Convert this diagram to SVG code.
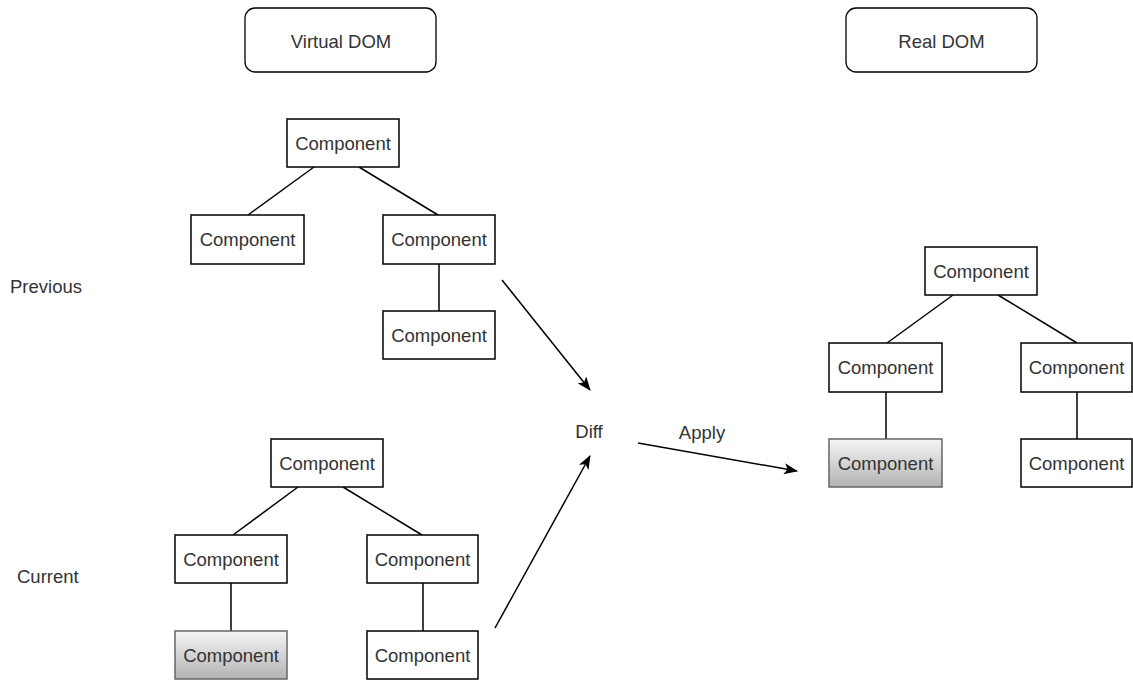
<svg xmlns="http://www.w3.org/2000/svg" width="1133" height="680" viewBox="0 0 1133 680">
  <style>
    .box { fill: #ffffff; stroke: #000000; stroke-width: 1.5; }
    .hl { fill: url(#grayGrad); stroke: #666666; stroke-width: 1.5; }
    .title { fill: #ffffff; stroke: #000000; stroke-width: 1.3; }
    .t { font-family: "Liberation Sans", Arial, sans-serif; font-size: 18.5px; fill: #333333; text-anchor: middle; dominant-baseline: central; }
    .lbl { font-family: "Liberation Sans", Arial, sans-serif; font-size: 18.5px; fill: #333333; dominant-baseline: central; }
    .edge { stroke: #000000; stroke-width: 1.5; fill: none; }
    .arrow { stroke: #000000; stroke-width: 1.5; fill: none; marker-end: url(#head); }
  </style>
  <defs>
    <linearGradient id="grayGrad" x1="0" y1="0" x2="0" y2="1">
      <stop offset="0" stop-color="#f5f5f5"/>
      <stop offset="1" stop-color="#b3b3b3"/>
    </linearGradient>
    <marker id="head" viewBox="0 0 14 11" refX="13" refY="5.5" markerWidth="14" markerHeight="11" markerUnits="userSpaceOnUse" orient="auto">
      <path d="M0,0 L14,5.5 L0,11 L3.5,5.5 Z" fill="#000000"/>
    </marker>
  </defs>

  <rect width="1133" height="680" fill="#ffffff"/>

  <!-- Headers -->
  <g id="virtual-dom">
    <rect class="title" x="245" y="8" width="191" height="64" rx="10"/>
    <text class="t" x="341" y="41">Virtual DOM</text>
  </g>
  <g id="real-dom">
    <rect class="title" x="846" y="8" width="191" height="64" rx="10"/>
    <text class="t" x="941.5" y="41">Real DOM</text>
  </g>

  <!-- Side labels -->
  <g id="label-previous"><text class="lbl" x="10" y="286">Previous</text></g>
  <g id="label-current"><text class="lbl" x="17" y="576">Current</text></g>
  <g id="label-diff"><text class="t" x="589" y="431">Diff</text></g>
  <g id="label-apply"><text class="t" x="702" y="432">Apply</text></g>

  <!-- Connectors -->
  <g id="connectors">
    <!-- previous tree -->
    <line class="edge" x1="314" y1="167" x2="248" y2="215"/>
    <line class="edge" x1="359" y1="167" x2="438" y2="215"/>
    <line class="edge" x1="439" y1="264" x2="439" y2="311"/>
    <!-- current tree -->
    <line class="edge" x1="298" y1="487" x2="233" y2="535"/>
    <line class="edge" x1="343" y1="487" x2="422" y2="535"/>
    <line class="edge" x1="231" y1="583" x2="231" y2="631"/>
    <line class="edge" x1="423" y1="583" x2="423" y2="631"/>
    <!-- real dom tree -->
    <line class="edge" x1="953" y1="295" x2="887" y2="343"/>
    <line class="edge" x1="998" y1="295" x2="1077" y2="343"/>
    <line class="edge" x1="886" y1="392" x2="886" y2="439"/>
    <line class="edge" x1="1077" y1="392" x2="1077" y2="439"/>
    <!-- arrows -->
    <line class="arrow" x1="502" y1="280" x2="590" y2="390"/>
    <line class="arrow" x1="495" y1="628" x2="590" y2="456"/>
    <line class="arrow" x1="638" y1="443" x2="797" y2="471"/>
  </g>

  <!-- Previous tree -->
  <g id="prev-root"><rect class="box" x="287" y="119" width="112" height="48"/><text class="t" x="343" y="143">Component</text></g>
  <g id="prev-left"><rect class="box" x="191" y="215" width="113" height="49"/><text class="t" x="247.5" y="239.5">Component</text></g>
  <g id="prev-right"><rect class="box" x="383" y="215" width="112" height="49"/><text class="t" x="439" y="239.5">Component</text></g>
  <g id="prev-right-child"><rect class="box" x="383" y="311" width="112" height="48"/><text class="t" x="439" y="335">Component</text></g>

  <!-- Current tree -->
  <g id="cur-root"><rect class="box" x="271" y="439" width="112" height="48"/><text class="t" x="327" y="463">Component</text></g>
  <g id="cur-left"><rect class="box" x="175" y="535" width="112" height="48"/><text class="t" x="231" y="559">Component</text></g>
  <g id="cur-right"><rect class="box" x="367" y="535" width="111" height="48"/><text class="t" x="422.5" y="559">Component</text></g>
  <g id="cur-left-child"><rect class="hl" x="175" y="631" width="112" height="48"/><text class="t" x="231" y="655">Component</text></g>
  <g id="cur-right-child"><rect class="box" x="367" y="631" width="111" height="48"/><text class="t" x="422.5" y="655">Component</text></g>

  <!-- Real DOM tree -->
  <g id="real-root"><rect class="box" x="925" y="247" width="112" height="48"/><text class="t" x="981" y="271">Component</text></g>
  <g id="real-left"><rect class="box" x="829" y="343" width="113" height="49"/><text class="t" x="885.5" y="367.5">Component</text></g>
  <g id="real-right"><rect class="box" x="1021" y="343" width="111" height="49"/><text class="t" x="1076.5" y="367.5">Component</text></g>
  <g id="real-left-child"><rect class="hl" x="829" y="439" width="113" height="48"/><text class="t" x="885.5" y="463">Component</text></g>
  <g id="real-right-child"><rect class="box" x="1021" y="439" width="111" height="48"/><text class="t" x="1076.5" y="463">Component</text></g>
</svg>
